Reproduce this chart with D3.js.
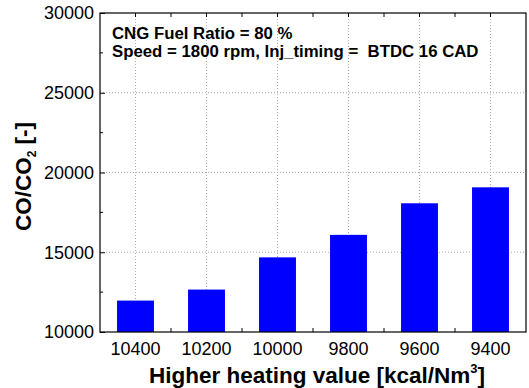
<!DOCTYPE html>
<html>
<head>
<meta charset="utf-8">
<script src="https://cdn.jsdelivr.net/npm/d3@7"></script>
<style>
  body { margin: 0; background: #fff; }
</style>
</head>
<body>
<div id="chart"></div>
<script>
var categories = ["10400", "10200", "10000", "9800", "9600", "9400"];
var ratios = [11970, 12660, 14680, 16090, 18070, 19070];
var yTicks = [10000, 15000, 20000, 25000, 30000];
var yMinorTicks = [12500, 17500, 22500, 27500];
var notes = ["CNG Fuel Ratio = 80 %", "Speed = 1800 rpm, Inj_timing =  BTDC 16 CAD"];

var width = 529;
var height = 388;
var marginTop = 13;
var marginLeft = 100;
var marginBottom = 56;
var marginRight = 3;
var fontFamily = "Liberation Sans, Arial, sans-serif";

var chartWidth = width - marginLeft - marginRight;
var chartHeight = height - marginTop - marginBottom;

var svg = d3.select("#chart").append("svg")
    .attr("width", width)
    .attr("height", height);

var chart = svg.append("g")
    .attr("transform", "translate(" + marginLeft + "," + marginTop + ")");

var xScale = d3.scaleBand()
    .domain(categories)
    .range([0, chartWidth])
    .paddingInner(0.48)
    .paddingOuter(0.24);

var yScale = d3.scaleLinear()
    .domain([10000, 30000])
    .range([chartHeight, 0]);

var step = xScale.step();
var centers = categories.map(function(c) { return xScale(c) + xScale.bandwidth() / 2; });
var bounds = d3.range(1, categories.length).map(function(i) { return i * step; });

// grid
chart.append("g").selectAll("line")
    .data(yTicks.slice(1, -1))
    .enter().append("line")
    .attr("x1", 0).attr("x2", chartWidth)
    .attr("y1", function(d) { return yScale(d); })
    .attr("y2", function(d) { return yScale(d); })
    .attr("stroke", "#aaa").attr("stroke-width", 1)
    .attr("stroke-dasharray", "1,2");

chart.append("g").selectAll("line")
    .data(centers)
    .enter().append("line")
    .attr("x1", function(d) { return d; }).attr("x2", function(d) { return d; })
    .attr("y1", 0).attr("y2", chartHeight)
    .attr("stroke", "#aaa").attr("stroke-width", 1)
    .attr("stroke-dasharray", "1,2");

// bars
chart.selectAll("rect.bar")
    .data(ratios)
    .enter().append("rect")
    .attr("class", "bar")
    .attr("x", function(d, i) { return xScale(categories[i]); })
    .attr("y", function(d) { return yScale(d); })
    .attr("width", xScale.bandwidth())
    .attr("height", function(d) { return chartHeight - yScale(d); })
    .attr("fill", "#0000ff");

// frame
chart.append("rect")
    .attr("width", chartWidth).attr("height", chartHeight)
    .attr("fill", "none").attr("stroke", "#000").attr("stroke-width", 1.2);

// y axis
var yAxis = d3.axisLeft(yScale)
    .tickValues(yTicks)
    .tickSize(-5)
    .tickPadding(6)
    .tickFormat(d3.format("d"));

var yg = chart.append("g").call(yAxis);
yg.select(".domain").remove();
yg.selectAll("text").style("font-size", "18px").attr("fill", "#000");

chart.append("g").selectAll("line")
    .data(yMinorTicks)
    .enter().append("line")
    .attr("x1", 0).attr("x2", 3)
    .attr("y1", function(d) { return yScale(d); })
    .attr("y2", function(d) { return yScale(d); })
    .attr("stroke", "#000");

// x axis
var xAxis = d3.axisBottom(xScale).tickSize(0).tickPadding(10);
var xg = chart.append("g")
    .attr("transform", "translate(0," + chartHeight + ")")
    .call(xAxis);
xg.select(".domain").remove();
xg.selectAll("text").style("font-size", "18px").attr("fill", "#000");

chart.append("g").selectAll("line")
    .data(bounds)
    .enter().append("line")
    .attr("x1", function(d) { return d; }).attr("x2", function(d) { return d; })
    .attr("y1", chartHeight).attr("y2", chartHeight - 4)
    .attr("stroke", "#000");

chart.append("g").selectAll("line")
    .data(centers.concat(bounds))
    .enter().append("line")
    .attr("x1", function(d) { return d; }).attr("x2", function(d) { return d; })
    .attr("y1", 0).attr("y2", 4)
    .attr("stroke", "#000");

// notes
chart.selectAll("text.note")
    .data(notes)
    .enter().append("text")
    .attr("class", "note")
    .attr("x", 12)
    .attr("y", function(d, i) { return 26 + i * 17.5; })
    .style("font-size", "16.8px")
    .style("font-weight", "bold")
    .style("white-space", "pre")
    .text(function(d) { return d; });

// axis titles
var xTitle = svg.append("text")
    .attr("x", marginLeft + chartWidth / 2 + 4)
    .attr("y", 382.5)
    .attr("text-anchor", "middle")
    .style("font-size", "22.5px")
    .style("font-weight", "bold");
xTitle.append("tspan").text("Higher heating value [kcal/Nm");
xTitle.append("tspan").attr("dy", -10).style("font-size", "13px").text("3");
xTitle.append("tspan").attr("dy", 10).text("]");

var yTitle = svg.append("text")
    .attr("transform", "translate(31," + (marginTop + chartHeight / 2 + 4) + ") rotate(-90)")
    .attr("text-anchor", "middle")
    .style("font-size", "22.5px")
    .style("font-weight", "bold");
yTitle.append("tspan").text("CO/CO");
yTitle.append("tspan").attr("dy", 5).style("font-size", "12px").text("2");
yTitle.append("tspan").attr("dy", -5).text(" [-]");

svg.selectAll("text").style("font-family", fontFamily);
</script>
</body>
</html>
